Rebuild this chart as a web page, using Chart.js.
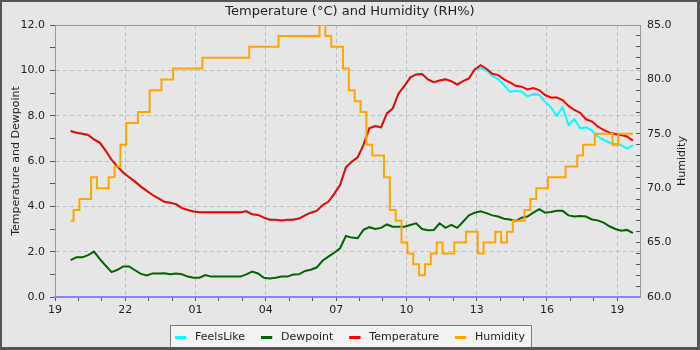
<!DOCTYPE html>
<html lang="en">
<head>
<meta charset="UTF-8">
<title>Temperature and Humidity</title>
<script src="https://cdn.jsdelivr.net/npm/chart.js@4"></script>
<style>
  html, body { margin: 0; padding: 0; background: #e6e6e6; }
  #wrap { width: 700px; height: 350px; position: relative; }
</style>
</head>
<body>
<div id="wrap"><canvas id="weatherChart"></canvas></div>
<script>
// readings every 15 minutes, 19:40 to 19:40 the next day
const times = [
  '19:40', '19:55',
  '20:10', '20:25', '20:40', '20:55', '21:10', '21:25', '21:40', '21:55',
  '22:10', '22:25', '22:40', '22:55', '23:10', '23:25', '23:40', '23:55',
  '00:10', '00:25', '00:40', '00:55', '01:10', '01:25', '01:40', '01:55',
  '02:10', '02:25', '02:40', '02:55', '03:10', '03:25', '03:40', '03:55',
  '04:10', '04:25', '04:40', '04:55', '05:10', '05:25', '05:40', '05:55',
  '06:10', '06:25', '06:40', '06:55', '07:10', '07:25', '07:40', '07:55',
  '08:10', '08:25', '08:40', '08:55', '09:10', '09:25', '09:40', '09:55',
  '10:10', '10:25', '10:40', '10:55', '11:10', '11:25', '11:40', '11:55',
  '12:10', '12:25', '12:40', '12:55', '13:10', '13:25', '13:40', '13:55',
  '14:10', '14:25', '14:40', '14:55', '15:10', '15:25', '15:40', '15:55',
  '16:10', '16:25', '16:40', '16:55', '17:10', '17:25', '17:40', '17:55',
  '18:10', '18:25', '18:40', '18:55', '19:10', '19:25', '19:40'
];

const temperature = [
  7.32, 7.25, 7.2, 7.15, 6.95, 6.8, 6.45, 6.05, 5.75, 5.48,
  5.28, 5.09, 4.87, 4.68, 4.5, 4.35, 4.2, 4.16, 4.1, 3.92,
  3.84, 3.77, 3.74, 3.74, 3.74, 3.74, 3.74, 3.74, 3.74, 3.74,
  3.78, 3.65, 3.62, 3.5, 3.41, 3.41, 3.38, 3.41, 3.41, 3.46,
  3.6, 3.72, 3.8, 4.05, 4.2, 4.55, 4.94, 5.72, 5.97, 6.16,
  6.71, 7.44, 7.54, 7.48, 8.1, 8.32, 8.98, 9.31, 9.69, 9.82,
  9.84, 9.6, 9.48, 9.55, 9.6, 9.52, 9.37, 9.52, 9.64, 10.04,
  10.23, 10.07, 9.85, 9.79, 9.6, 9.47, 9.32, 9.28, 9.16, 9.22,
  9.13, 8.91, 8.8, 8.8, 8.69, 8.43, 8.25, 8.13, 7.84, 7.74,
  7.52, 7.37, 7.25, 7.19, 7.15, 7.08, 6.9
];

const feelsLike = [
  7.32, 7.25, 7.2, 7.15, 6.95, 6.8, 6.45, 6.05, 5.75, 5.48,
  5.28, 5.09, 4.87, 4.68, 4.5, 4.35, 4.2, 4.16, 4.1, 3.92,
  3.84, 3.77, 3.74, 3.74, 3.74, 3.74, 3.74, 3.74, 3.74, 3.74,
  3.78, 3.65, 3.62, 3.5, 3.41, 3.41, 3.38, 3.41, 3.41, 3.46,
  3.6, 3.72, 3.8, 4.05, 4.2, 4.55, 4.94, 5.72, 5.97, 6.16,
  6.71, 7.44, 7.54, 7.48, 8.1, 8.32, 8.98, 9.31, 9.69, 9.82,
  9.84, 9.6, 9.48, 9.55, 9.6, 9.52, 9.37, 9.52, 9.64, 10.04,
  10.1, 10.0, 9.75, 9.62, 9.35, 9.06, 9.1, 9.06, 8.84, 8.96,
  8.91, 8.62, 8.37, 8.0, 8.37, 7.59, 7.85, 7.44, 7.49, 7.34,
  7.08, 6.93, 6.81, 6.75, 6.7, 6.55, 6.7
];

const dewpoint = [
  1.63, 1.75, 1.75, 1.85, 2.0, 1.67, 1.38, 1.1, 1.2, 1.35,
  1.35, 1.18, 1.02, 0.95, 1.04, 1.04, 1.05, 1.0, 1.04, 1.0,
  0.9, 0.85, 0.85, 0.97, 0.9, 0.9, 0.9, 0.9, 0.9, 0.9,
  1.0, 1.12, 1.04, 0.85, 0.82, 0.85, 0.9, 0.9, 0.99, 1.0,
  1.15, 1.2, 1.3, 1.6, 1.78, 1.95, 2.15, 2.69, 2.62, 2.59,
  2.96, 3.08, 3.0, 3.05, 3.2, 3.1, 3.1, 3.1, 3.18, 3.25,
  3.0, 2.95, 2.96, 3.25, 3.05, 3.18, 3.05, 3.32, 3.6, 3.72,
  3.78, 3.7, 3.6, 3.55, 3.45, 3.42, 3.35, 3.5, 3.55, 3.72,
  3.88, 3.72, 3.75, 3.8, 3.8, 3.6, 3.55, 3.57, 3.55, 3.42,
  3.38, 3.28, 3.12, 3.0, 2.92, 2.96, 2.82
];

const humidity = [
  67, 68, 69, 69, 71, 70, 70, 71, 72, 74,
  76, 76, 77, 77, 79, 79, 80, 80, 81, 81,
  81, 81, 81, 82, 82, 82, 82, 82, 82, 82,
  82, 83, 83, 83, 83, 83, 84, 84, 84, 84,
  84, 84, 84, 85, 84, 83, 83, 81, 79, 78,
  77, 74, 73, 73, 71, 68, 67, 65, 64, 63,
  62, 63, 64, 65, 64, 64, 65, 65, 66, 66,
  64, 65, 65, 66, 65, 66, 67, 67, 68, 69,
  70, 70, 71, 71, 71, 72, 72, 73, 74, 74,
  75, 75, 75, 74, 75, 75, 75
];

const xTickLabels = ['19', '22', '01', '04', '07', '10', '13', '16', '19'];

// hours since 19:00, rolling over midnight
const startHour = 19;
let day = 0;
let prev = -1;
const hours = times.map(t => {
  const [h, m] = t.split(':').map(Number);
  let v = h + m / 60 - startHour + day * 24;
  if (v < prev) { day++; v += 24; }
  prev = v;
  return v;
});
const pts = arr => arr.map((v, i) => ({ x: hours[i], y: v }));

const FONT = "'DejaVu Sans', sans-serif";
Chart.defaults.font.family = FONT;
Chart.defaults.font.size = 11;
Chart.defaults.color = '#222';

const gridGrey = '#bdbdbd';
const clear = 'rgba(0,0,0,0)';

const chrome = {
  id: 'chrome',
  beforeDraw(chart) {
    const { ctx, width, height, legend } = chart;
    ctx.save();
    ctx.fillStyle = '#e6e6e6';
    ctx.fillRect(0, 0, width, height);
    const boxes = legend && legend.legendHitBoxes;
    if (boxes && boxes.length) {
      const l = Math.round(Math.min(...boxes.map(b => b.left)) - 5);
      const r = Math.round(Math.max(...boxes.map(b => b.left + b.width)) + 6);
      const t = Math.round(boxes[0].top - 7);
      const b = Math.round(boxes[0].top + boxes[0].height + 4);
      ctx.fillStyle = '#f3f3f3';
      ctx.fillRect(l, t, r - l, b - t);
      ctx.strokeStyle = '#7a7a7a';
      ctx.lineWidth = 1;
      ctx.strokeRect(l + 0.5, t + 0.5, r - l, b - t);
    }
    ctx.restore();
  },
  beforeDatasetsDraw(chart) {
    const { ctx, chartArea: a } = chart;
    ctx.save();
    ctx.strokeStyle = '#999';
    ctx.lineWidth = 1;
    ctx.beginPath();
    ctx.moveTo(a.left, Math.round(a.top) + 0.5);
    ctx.lineTo(a.right, Math.round(a.top) + 0.5);
    ctx.stroke();
    ctx.restore();
  },
  afterDraw(chart) {
    const { ctx, chartArea: a, width, height } = chart;
    ctx.save();
    // right axis title, reading bottom to top
    ctx.translate(682, (a.top + a.bottom) / 2);
    ctx.rotate(-Math.PI / 2);
    ctx.font = '11px ' + FONT;
    ctx.fillStyle = '#222';
    ctx.textAlign = 'center';
    ctx.textBaseline = 'middle';
    ctx.fillText('Humidity', 0, 0);
    ctx.restore();
    // outer frame
    ctx.save();
    ctx.fillStyle = '#555';
    ctx.fillRect(0, 0, width, 2);
    ctx.fillRect(0, 0, 2, height);
    ctx.fillRect(width - 3, 0, 3, height);
    ctx.fillRect(0, height - 3, width, 3);
    ctx.restore();
  }
};

const line = (label, data, color, axis, order, extra) => Object.assign({
  label,
  data: pts(data),
  borderColor: color,
  backgroundColor: color,
  borderWidth: 2,
  pointRadius: 0,
  fill: false,
  tension: 0,
  yAxisID: axis,
  order
}, extra || {});

new Chart(document.getElementById('weatherChart'), {
  type: 'line',
  data: {
    datasets: [
      line('FeelsLike', feelsLike, '#00ffff', 'y', 4),
      line('Dewpoint', dewpoint, '#006400', 'y', 3),
      line('Temperature', temperature, '#ff0000', 'y', 2),
      line('Humidity', humidity, '#ffa500', 'y1', 1, { stepped: 'middle' })
    ]
  },
  options: {
    responsive: true,
    maintainAspectRatio: false,
    animation: false,
    devicePixelRatio: 1,
    layout: { padding: { top: 0, left: 0, right: 0, bottom: -3 } },
    plugins: {
      title: {
        display: true,
        text: 'Temperature (°C) and Humidity (RH%)',
        font: { size: 13, weight: 'normal' },
        color: '#222',
        padding: { top: 4, bottom: 5.4 }
      },
      legend: {
        position: 'bottom',
        labels: {
          usePointStyle: true,
          pointStyle: 'line',
          boxWidth: 11,
          boxHeight: 8,
          padding: 16,
          font: { size: 11 },
          color: '#222',
          generateLabels(chart) {
            const items = Chart.defaults.plugins.legend.labels.generateLabels(chart);
            items.forEach(it => {
              it.lineWidth = 3;
              it.text = ' ' + it.text;
            });
            return items.sort((a, b) => a.datasetIndex - b.datasetIndex);
          }
        }
      },
      tooltip: { enabled: false }
    },
    scales: {
      x: {
        type: 'linear',
        min: 0,
        max: 24.97,
        afterFit(s) { s.height = 19; },
        ticks: {
          stepSize: 1,
          includeBounds: false,
          autoSkip: false,
          maxRotation: 0,
          padding: 3,
          callback: v => (v % 3 === 0 ? xTickLabels[v / 3] : '')
        },
        grid: {
          color: c => (c.tick && c.tick.value % 3 === 0 ? gridGrey : clear),
          tickColor: '#555',
          tickLength: 4
        },
        border: { color: '#8585f0', width: 2, dash: [4, 3] }
      },
      y: {
        position: 'left',
        min: 0,
        max: 12,
        afterFit(s) { s.width = 55; },
        ticks: {
          stepSize: 1,
          autoSkip: false,
          padding: 5,
          callback: v => (v % 2 === 0 ? v.toFixed(1) : '')
        },
        grid: {
          color: c => (c.tick && c.tick.value % 2 === 0 ? gridGrey : clear),
          tickColor: '#555',
          tickLength: 5
        },
        border: { color: '#999', width: 1, dash: [4, 3] },
        title: {
          display: true,
          text: 'Temperature and Dewpoint',
          font: { size: 11 },
          color: '#222',
          padding: { top: 10, bottom: 0 }
        }
      },
      y1: {
        position: 'right',
        min: 60,
        max: 85,
        afterFit(s) { s.width = 60; },
        ticks: {
          stepSize: 1,
          autoSkip: false,
          padding: 11,
          callback: v => (v % 5 === 0 ? v.toFixed(1) : '')
        },
        grid: {
          drawOnChartArea: false,
          tickColor: '#555',
          tickLength: -4
        },
        border: { color: '#999', width: 1 }
      }
    }
  },
  plugins: [chrome]
});
</script>
</body>
</html>
